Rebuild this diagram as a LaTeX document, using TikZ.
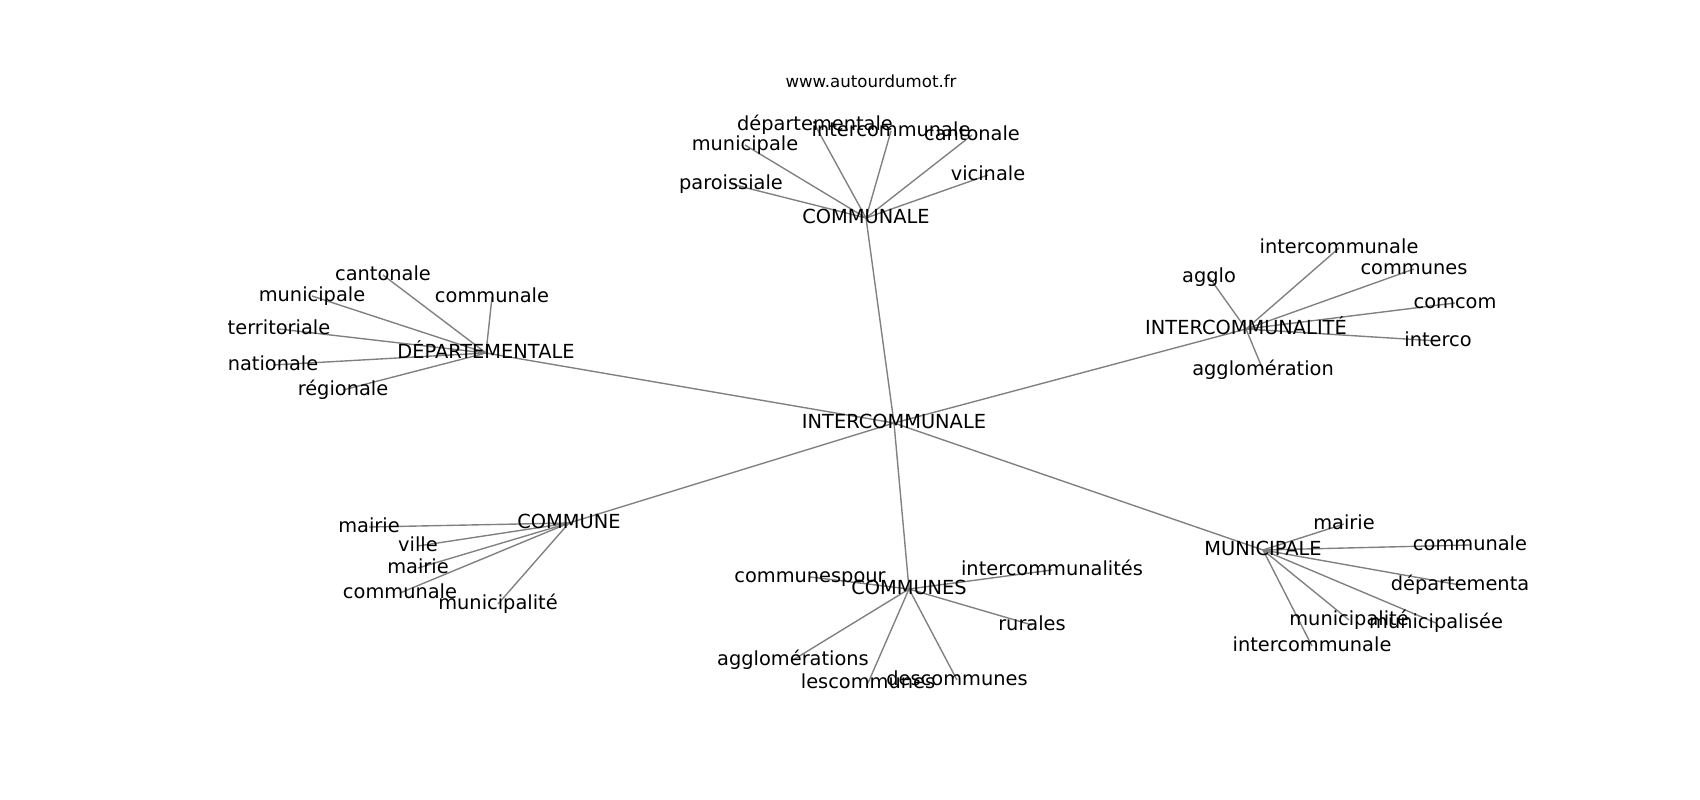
\documentclass[tikz,border=0pt]{standalone}
\usepackage{fontspec}
\setmainfont{DejaVu Sans}
\usetikzlibrary{backgrounds}

\begin{document}
\begin{tikzpicture}[x=0.01in,y=-0.01in,
    word/.style={inner sep=0pt,text height=10.64pt,text depth=2.91pt,
      font=\fontsize{14}{16.8}\selectfont},
    link/.style={draw=gray,line width=1pt}]
  \useasboundingbox (0,0) rectangle (1700,800);
  \node[anchor=base,font=\fontsize{12}{14.4}\selectfont] (site) at (871,88) {www.autourdumot.fr};
  % centre
  \node[word] (inter) at (894,423) {INTERCOMMUNALE};
  % communale
  \node[word] (communale) at (866,218) {COMMUNALE};
  \node[word] (cl1) at (731,184) {paroissiale};
  \node[word] (cl2) at (745,145) {municipale};
  \node[word] (cl3) at (815,125) {départementale};
  \node[word] (cl4) at (891,131) {intercommunale};
  \node[word] (cl5) at (972,135) {cantonale};
  \node[word] (cl6) at (988,175) {vicinale};
  % departementale
  \node[word] (dep) at (486,353) {DÉPARTEMENTALE};
  \node[word] (dp1) at (383,275) {cantonale};
  \node[word] (dp2) at (312,296) {municipale};
  \node[word] (dp3) at (492,297) {communale};
  \node[word] (dp4) at (279,329) {territoriale};
  \node[word] (dp5) at (273,365) {nationale};
  \node[word] (dp6) at (343,390) {régionale};
  % intercommunalite
  \node[word] (interco) at (1246,329) {INTERCOMMUNALITÉ};
  \node[word] (it1) at (1339,248) {intercommunale};
  \node[word] (it2) at (1414,269) {communes};
  \node[word] (it3) at (1209,277) {agglo};
  \node[word] (it4) at (1455,303) {comcom};
  \node[word] (it5) at (1438,341) {interco};
  \node[word] (it6) at (1263,370) {agglomération};
  % commune
  \node[word] (commune) at (569,523) {COMMUNE};
  \node[word] (ce1) at (369,527) {mairie};
  \node[word] (ce2) at (418,546) {ville};
  \node[word] (ce3) at (418,568) {mairie};
  \node[word] (ce4) at (400,593) {communale};
  \node[word] (ce5) at (498,604) {municipalité};
  % communes
  \node[word] (communes) at (909,589) {COMMUNES};
  \node[word] (cs1) at (810,577) {communespour};
  \node[word] (cs2) at (1052,570) {intercommunalités};
  \node[word] (cs3) at (1032,625) {rurales};
  \node[word] (cs4) at (793,660) {agglomérations};
  \node[word] (cs5) at (868,683) {lescommunes};
  \node[word] (cs6) at (957,680) {descommunes};
  % municipale
  \node[word] (municip) at (1263,550) {MUNICIPALE};
  \node[word] (mp1) at (1344,524) {mairie};
  \node[word] (mp2) at (1470,545) {communale};
  \node[word] (mp3) at (1460,585) {départementa};
  \node[word] (mp4) at (1349,620) {municipalité};
  \node[word] (mp5) at (1436,623) {municipalisée};
  \node[word] (mp6) at (1312,646) {intercommunale};
  \begin{scope}[on background layer]
    \foreach \a in {communale,dep,interco,commune,communes,municip}
      \draw[link] (inter.center) -- (\a.center);
    \foreach \b in {1,...,6}{
      \draw[link] (communale.center) -- (cl\b.center);
      \draw[link] (dep.center) -- (dp\b.center);
      \draw[link] (interco.center) -- (it\b.center);
      \draw[link] (communes.center) -- (cs\b.center);
      \draw[link] (municip.center) -- (mp\b.center);
    }
    \foreach \b in {1,...,5}
      \draw[link] (commune.center) -- (ce\b.center);
  \end{scope}
\end{tikzpicture}
\end{document}
